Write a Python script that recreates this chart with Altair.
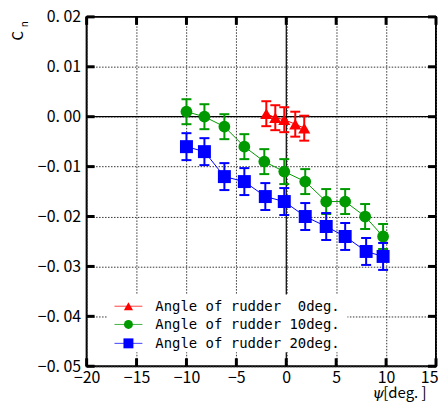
import altair as alt
import pandas as pd

# ---- data ----
red_x = [-2.0, -1.1, -0.2, 0.9, 1.8]
red_y = [0.0006, -0.0002, -0.0006, -0.0015, -0.0023]
red_err = 0.0025

green_x = [-10.0, -8.2, -6.2, -4.2, -2.2, -0.2, 1.9, 4.0, 5.9, 7.9, 9.7]
green_y = [0.001, 0.0, -0.002, -0.006, -0.009, -0.011, -0.013, -0.017, -0.017, -0.020, -0.024]
green_err = 0.0025

blue_x = [-10.0, -8.2, -6.2, -4.2, -2.1, -0.2, 1.9, 4.0, 5.9, 8.0, 9.7]
blue_y = [-0.006, -0.007, -0.012, -0.013, -0.016, -0.017, -0.020, -0.022, -0.024, -0.027, -0.028]
blue_err = 0.0027

series_names = ["Angle of rudder\u00a0 0deg.", "Angle of rudder 10deg.", "Angle of rudder 20deg."]
series_colors = ["#ff0000", "#009900", "#0000ff"]
series_shapes = ["triangle-up", "circle", "square"]
series_sizes = [150, 140, 170]
legend_sizes = [85, 80, 100]

x_ticks = [-20, -15, -10, -5, 0, 5, 10, 15]
y_ticks = [-0.05, -0.04, -0.03, -0.02, -0.01, 0.0, 0.01, 0.02]

W, H = 351, 351
FONT = "Noto Sans CJK JP"

xs = alt.Scale(domain=[-20, 15], nice=False, zero=False)
ys = alt.Scale(domain=[-0.05, 0.02], nice=False, zero=False)

def frame(x, y, err, name):
    return pd.DataFrame({"x": x, "y": y,
                         "lo": [v - err for v in y], "hi": [v + err for v in y],
                         "s": name})

sets = [frame(red_x, red_y, red_err, series_names[0]),
        frame(green_x, green_y, green_err, series_names[1]),
        frame(blue_x, blue_y, blue_err, series_names[2])]

xt = pd.DataFrame({"v": x_ticks})
yt = pd.DataFrame({"v": y_ticks})

last_x = x_ticks[-1]
grid_x = alt.Chart(xt).mark_point(opacity=0).encode(
    x=alt.X("v:Q", scale=xs, title=None,
            axis=alt.Axis(values=x_ticks, grid=True, ticks=False, domain=False,
                          labelFontSize=16, labelFont=FONT, labelColor="black",
                          labelPadding=3, labelFlush=False,
                          labelAlign={"condition": {"test": f"datum.value == {last_x}", "value": "right"},
                                      "value": "center"},
                          labelOffset={"condition": {"test": f"datum.value == {last_x}", "value": 2},
                                       "value": 0},
                          gridColor="#333", gridDash=[1.5, 1.5], gridWidth=1)),
)
grid_y = alt.Chart(yt).mark_point(opacity=0).encode(
    y=alt.Y("v:Q", scale=ys, title=None,
            axis=alt.Axis(values=y_ticks, grid=True, ticks=False, domain=False,
                          labelFontSize=16, labelFont=FONT, labelColor="black",
                          labelPadding=6, labelFlush=False,
                          labelExpr="replace(format(datum.value, '.2f'), '.', '.\u00a0')",
                          gridColor="#333", gridDash=[1.5, 1.5], gridWidth=1)),
)

zero_v = alt.Chart(pd.DataFrame({"v": [0]})).mark_rule(color="black", strokeWidth=1.2).encode(
    x=alt.X("v:Q", scale=xs))
zero_h = alt.Chart(pd.DataFrame({"v": [0.0]})).mark_rule(color="black", strokeWidth=1.2).encode(
    y=alt.Y("v:Q", scale=ys))

tick_x_bot = alt.Chart(xt).mark_rule(color="black", strokeWidth=3).encode(
    x=alt.X("v:Q", scale=xs), y=alt.value(H), y2=alt.value(H - 8))
tick_x_top = alt.Chart(xt).mark_rule(color="black", strokeWidth=3).encode(
    x=alt.X("v:Q", scale=xs), y=alt.value(0), y2=alt.value(8))
tick_y_l = alt.Chart(yt).mark_rule(color="black", strokeWidth=3).encode(
    y=alt.Y("v:Q", scale=ys), x=alt.value(0), x2=alt.value(8))
tick_y_r = alt.Chart(yt).mark_rule(color="black", strokeWidth=3).encode(
    y=alt.Y("v:Q", scale=ys), x=alt.value(W), x2=alt.value(W - 8))

layers = [grid_x, grid_y, zero_v, zero_h, tick_x_bot, tick_x_top, tick_y_l, tick_y_r]

for df, col, shp, sz in zip(sets, series_colors, series_shapes, series_sizes):
    base = alt.Chart(df)
    layers.append(base.mark_line(color=col, strokeWidth=1).encode(
        x=alt.X("x:Q", scale=xs), y=alt.Y("y:Q", scale=ys)))
    layers.append(base.mark_rule(color=col, strokeWidth=2).encode(
        x=alt.X("x:Q", scale=xs), y=alt.Y("lo:Q", scale=ys), y2="hi:Q"))
    layers.append(base.mark_rule(color=col, strokeWidth=2, xOffset=-5, x2Offset=5).encode(
        x=alt.X("x:Q", scale=xs), x2="x:Q", y=alt.Y("lo:Q", scale=ys)))
    layers.append(base.mark_rule(color=col, strokeWidth=2, xOffset=-5, x2Offset=5).encode(
        x=alt.X("x:Q", scale=xs), x2="x:Q", y=alt.Y("hi:Q", scale=ys)))
    layers.append(base.mark_point(filled=True, shape=shp, size=sz, color=col, opacity=1).encode(
        x=alt.X("x:Q", scale=xs), y=alt.Y("y:Q", scale=ys)))

one = pd.DataFrame({"k": [0]})
layers.append(alt.Chart(one).mark_rect(color="white").encode(
    x=alt.value(21), x2=alt.value(262), y=alt.value(279), y2=alt.value(337)))
rows = [290.7, 309.0, 328.0]
for name, col, shp, lsz, ry in zip(series_names, series_colors, series_shapes, legend_sizes, rows):
    layers.append(alt.Chart(one).mark_rule(color=col, strokeWidth=1, opacity=0.75).encode(
        x=alt.value(28), x2=alt.value(56), y=alt.value(ry)))
    layers.append(alt.Chart(one).mark_point(filled=True, shape=shp, size=lsz, color=col, opacity=1).encode(
        x=alt.value(42), y=alt.value(ry)))
    layers.append(alt.Chart(one).mark_text(text=name, align="left", baseline="middle",
                                           font="DejaVu Sans Mono", fontSize=14, color="black").encode(
        x=alt.value(69), y=alt.value(ry + 1)))

layers.append(alt.Chart(one).mark_text(text="C", angle=270, align="center", baseline="middle",
                                       font=FONT, fontSize=15, color="black").encode(
    x=alt.value(-68.7), y=alt.value(19)))
layers.append(alt.Chart(one).mark_text(text="n", angle=270, align="center", baseline="middle",
                                       font=FONT, fontSize=10, color="black").encode(
    x=alt.value(-61.5), y=alt.value(7.5)))
layers.append(alt.Chart(one).mark_text(text="\u03c8", align="center", baseline="middle",
                                       font="DejaVu Serif", fontStyle="italic", fontSize=15, color="black").encode(
    x=alt.value(293), y=alt.value(378)))
layers.append(alt.Chart(one).mark_text(text="[deg. ]", align="left", baseline="middle",
                                       font=FONT, fontSize=15, color="black").encode(
    x=alt.value(298), y=alt.value(378)))

chart = alt.layer(*layers).properties(
    width=W, height=H,
    autosize=alt.AutoSizeParams(type="none"),
    padding={"left": 79, "top": 8, "right": 2, "bottom": 36},
).configure_view(stroke="black", strokeWidth=2)

chart.save("out.html", embed_options={"renderer": "svg", "actions": False})
